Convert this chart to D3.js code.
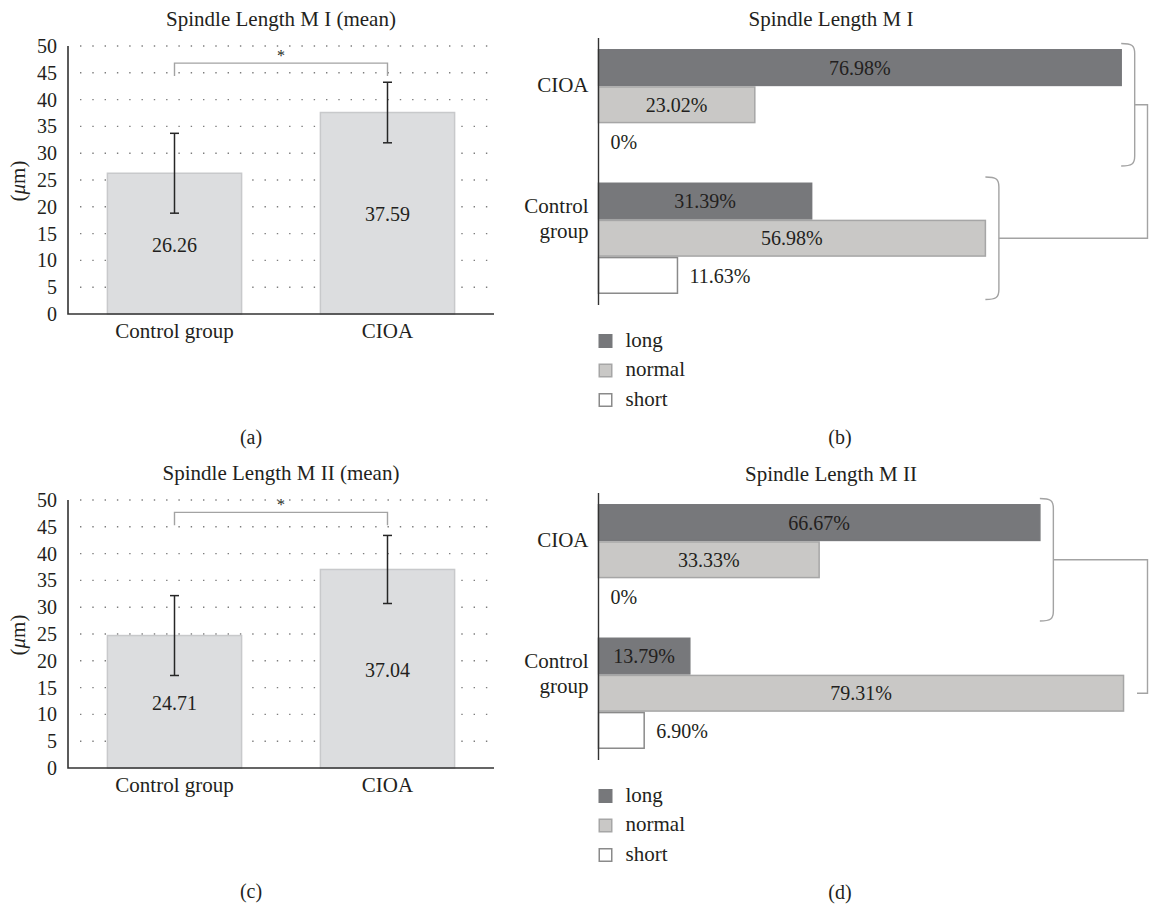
<!DOCTYPE html>
<html>
<head>
<meta charset="utf-8">
<script src="https://cdn.jsdelivr.net/npm/d3@7"></script>
<style>
  body { margin: 0; background: #fff; }
  svg text { font-family: "Liberation Serif", "Times New Roman", serif; fill: #231f20; }
</style>
</head>
<body>
<svg id="fig" width="1149" height="907" font-family="Liberation Serif, Times New Roman, serif"></svg>
<script>
// ---- data ----
const groupNames = ["Control group", "CIOA"];
const meanM1 = [26.26, 37.59];
const sdM1 = [7.45, 5.65];
const meanM2 = [24.71, 37.04];
const sdM2 = [7.45, 6.35];
const meanTicks = [0, 5, 10, 15, 20, 25, 30, 35, 40, 45, 50];

const distGroups = ["CIOA", "Control group"];
const lengthClasses = ["long", "normal", "short"];
const distM1Cioa = [76.98, 23.02, 0];
const distM1Control = [31.39, 56.98, 11.63];
const distM2Cioa = [66.67, 33.33, 0];
const distM2Control = [13.79, 79.31, 6.90];

// ---- styles ----
const serif = "Liberation Serif, Times New Roman, serif";
const classFill = { long: "#77787b", normal: "#c9c8c6", short: "#ffffff" };
const classStroke = { long: "#77787b", normal: "#a6a6a6", short: "#8a8a8a" };
const bracketGray = "#a3a3a3";

const svg = d3.select("#fig");

// Mean bar chart with SD error bars and a significance bracket
function drawMean(opt) {
  const g = svg.append("g");
  const left = 68, right = 494, top = opt.top, bottom = opt.top + 268;
  const x = d3.scaleBand().domain(groupNames).range([left, right])
    .paddingInner(0.37).paddingOuter(0.185);
  const y = d3.scaleLinear().domain([0, 50]).range([bottom, top]);
  const rows = groupNames.map((n, i) => ({ name: n, mean: opt.means[i], sd: opt.sds[i] }));

  // dotted grid
  g.selectAll("line.grid").data(meanTicks.filter(t => t > 0)).join("line")
    .attr("class", "grid")
    .attr("x1", left + 12).attr("x2", right - 2)
    .attr("y1", d => y(d)).attr("y2", d => y(d))
    .attr("stroke", "#7d7d7d").attr("stroke-width", 1.4)
    .attr("stroke-dasharray", "1.4,10.9");

  // bars
  g.selectAll("rect.bar").data(rows).join("rect")
    .attr("class", "bar")
    .attr("x", d => x(d.name)).attr("width", x.bandwidth())
    .attr("y", d => y(d.mean)).attr("height", d => y(0) - y(d.mean))
    .attr("fill", "#dcdddf").attr("stroke", "#c8c9cb").attr("stroke-width", 1.5);

  // value labels
  g.selectAll("text.val").data(rows).join("text")
    .attr("class", "val")
    .attr("x", d => x(d.name) + x.bandwidth() / 2)
    .attr("y", d => y(d.mean / 2)).attr("dy", "0.4em")
    .attr("text-anchor", "middle").attr("font-size", 20)
    .text(d => d.mean.toFixed(2));

  // error bars
  const eb = g.selectAll("g.err").data(rows).join("g").attr("class", "err")
    .attr("stroke", "#262626").attr("stroke-width", 1.5);
  eb.append("line")
    .attr("x1", d => x(d.name) + x.bandwidth() / 2).attr("x2", d => x(d.name) + x.bandwidth() / 2)
    .attr("y1", d => y(d.mean + d.sd)).attr("y2", d => y(d.mean - d.sd));
  [1, -1].forEach(s => {
    eb.append("line")
      .attr("x1", d => x(d.name) + x.bandwidth() / 2 - 4.5)
      .attr("x2", d => x(d.name) + x.bandwidth() / 2 + 4.5)
      .attr("y1", d => y(d.mean + s * d.sd)).attr("y2", d => y(d.mean + s * d.sd));
  });

  // significance bracket
  const cx0 = x(groupNames[0]) + x.bandwidth() / 2;
  const cx1 = x(groupNames[1]) + x.bandwidth() / 2;
  g.append("path")
    .attr("d", `M${cx0},${y(opt.sigLow)}V${y(opt.sigTop)}H${cx1}V${y(opt.sigLow)}`)
    .attr("fill", "none").attr("stroke", bracketGray).attr("stroke-width", 1.4);
  g.append("text")
    .attr("x", (cx0 + cx1) / 2).attr("y", y(opt.sigTop) - 2)
    .attr("text-anchor", "middle").attr("font-size", 16).text("*");

  // axes
  const ya = g.append("g").attr("transform", `translate(${left},0)`)
    .call(d3.axisLeft(y).tickValues(meanTicks).tickSize(0).tickPadding(11));
  ya.select(".domain").remove();
  ya.attr("font-family", serif);
  ya.selectAll("text").attr("font-size", 20).style("fill", "#231f20");

  const xa = g.append("g").attr("transform", `translate(0,${bottom})`)
    .call(d3.axisBottom(x).tickSize(0).tickPadding(9));
  xa.select(".domain").remove();
  xa.attr("font-family", serif);
  xa.selectAll("text").attr("font-size", 21).style("fill", "#231f20");

  g.append("path")
    .attr("d", `M${left},${top}V${bottom}H${right}`)
    .attr("fill", "none").attr("stroke", "#333").attr("stroke-width", 1.6);

  // y-axis label
  const yl = g.append("text")
    .attr("transform", `translate(18,${top + 135}) rotate(-90)`)
    .attr("dy", "0.35em").attr("text-anchor", "middle").attr("font-size", 21);
  yl.append("tspan").text("(");
  yl.append("tspan").attr("font-style", "italic").text("\u03bc");
  yl.append("tspan").text("m)");

  // title and caption
  g.append("text").attr("x", (left + right) / 2).attr("y", top - 20)
    .attr("text-anchor", "middle").attr("font-size", 21).text(opt.title);
  g.append("text").attr("x", 251).attr("y", top + 398)
    .attr("text-anchor", "middle").attr("font-size", 20).text(opt.caption);
}

// Horizontal distribution chart (long / normal / short)
function drawDist(opt) {
  const g = svg.append("g");
  const axisX = 598.5, top = opt.top, bottom = opt.top + 267;
  const x = d3.scaleLinear().domain([0, 100]).range([axisX, axisX + opt.pxPerPercent * 100]);
  const yg = d3.scaleBand().domain(distGroups).range([top, bottom])
    .paddingInner(0.165).paddingOuter(0.0825);
  const ys = d3.scaleBand().domain(lengthClasses).range([0, yg.bandwidth()]);
  const values = { "CIOA": opt.cioa, "Control group": opt.control };

  const grp = g.selectAll("g.grp").data(distGroups).join("g").attr("class", "grp")
    .attr("transform", d => `translate(0,${yg(d)})`);

  const cells = grp.selectAll("g.cell")
    .data(gname => lengthClasses.map((c, i) => ({ group: gname, cls: c, v: values[gname][i] })))
    .join("g").attr("class", "cell");

  cells.filter(d => d.v > 0).append("rect")
    .attr("x", x(0)).attr("width", d => x(d.v) - x(0))
    .attr("y", d => ys(d.cls) + 0.75).attr("height", ys.bandwidth() - 1.5)
    .attr("fill", d => classFill[d.cls])
    .attr("stroke", d => classStroke[d.cls]).attr("stroke-width", 1.5);

  const fmt = v => (v === 0 ? "0%" : v.toFixed(2) + "%");
  cells.append("text")
    .attr("x", d => d.v >= 12 ? (x(0) + x(d.v)) / 2 : x(d.v) + 12)
    .attr("text-anchor", d => d.v >= 12 ? "middle" : "start")
    .attr("y", d => ys(d.cls) + ys.bandwidth() / 2).attr("dy", "0.36em")
    .attr("font-size", 20)
    .text(d => fmt(d.v));

  // category labels
  grp.each(function (gname) {
    const lines = gname === "Control group" ? ["Control", "group"] : [gname];
    const c = ys.bandwidth();
    const base = lines.length === 1 ? [c + 6] : [c - 7, c + 18];
    lines.forEach((ln, i) => {
      d3.select(this).append("text")
        .attr("x", axisX - 10).attr("y", base[i])
        .attr("text-anchor", "end").attr("font-size", 21).text(ln);
    });
  });

  // vertical axis
  g.append("line").attr("x1", axisX).attr("x2", axisX).attr("y1", top).attr("y2", bottom)
    .attr("stroke", "#333").attr("stroke-width", 1.4);

  // braces grouping each category and the connector between them
  const braceW = 13.5, connX = 1147.5;
  const brace = gname => {
    const x0 = x(d3.max(values[gname]));
    const t = yg(gname) - 5.5, b = yg(gname) + yg.bandwidth() + 5.5;
    return { x0, t, b, mid: yg(gname) + yg.bandwidth() / 2 };
  };
  const bc = brace("CIOA"), bk = brace("Control group");
  const bracePath = o =>
    `M${o.x0},${o.t}C${o.x0 + braceW * 0.8},${o.t} ${o.x0 + braceW},${o.t + 2} ${o.x0 + braceW},${o.t + 10}` +
    `V${o.b - 10}C${o.x0 + braceW},${o.b - 2} ${o.x0 + braceW * 0.8},${o.b} ${o.x0},${o.b}`;
  g.append("path").attr("d", bracePath(bc))
    .attr("fill", "none").attr("stroke", bracketGray).attr("stroke-width", 1.4);
  if (opt.controlBrace) {
    g.append("path").attr("d", bracePath(bk))
      .attr("fill", "none").attr("stroke", bracketGray).attr("stroke-width", 1.4);
  }
  g.append("path")
    .attr("d", `M${bc.x0 + braceW},${bc.mid}H${connX}V${bk.mid}H${bk.x0 + braceW}`)
    .attr("fill", "none").attr("stroke", bracketGray).attr("stroke-width", 1.4);

  // legend
  const lg = g.selectAll("g.leg").data(lengthClasses).join("g").attr("class", "leg")
    .attr("transform", (d, i) => `translate(598.5,${top + 303 + i * 29.5})`);
  lg.append("rect").attr("x", 0.75).attr("y", -6.25).attr("width", 12.5).attr("height", 12.5)
    .attr("fill", d => classFill[d]).attr("stroke", d => d === "long" ? classFill.long : classStroke[d])
    .attr("stroke-width", 1.5);
  lg.append("text").attr("x", 27).attr("y", 5.5).attr("font-size", 21).text(d => d);

  // title and caption
  g.append("text").attr("x", 831).attr("y", top - 12)
    .attr("text-anchor", "middle").attr("font-size", 21).text(opt.title);
  g.append("text").attr("x", 840).attr("y", top + 406)
    .attr("text-anchor", "middle").attr("font-size", 20).text(opt.caption);
}

drawMean({ title: "Spindle Length M I (mean)", means: meanM1, sds: sdM1, top: 46,
  sigTop: 46.8, sigLow: 44.4, caption: "(a)" });
drawDist({ title: "Spindle Length M I", cioa: distM1Cioa, control: distM1Control, top: 38,
  pxPerPercent: 6.79, controlBrace: true, caption: "(b)" });
drawMean({ title: "Spindle Length M II (mean)", means: meanM2, sds: sdM2, top: 500,
  sigTop: 47.7, sigLow: 45.3, caption: "(c)" });
drawDist({ title: "Spindle Length M II", cioa: distM2Cioa, control: distM2Control, top: 493,
  pxPerPercent: 6.62, controlBrace: false, caption: "(d)" });

// make sure every label uses the serif face
svg.selectAll("text").attr("font-family", serif);
</script>
</body>
</html>
